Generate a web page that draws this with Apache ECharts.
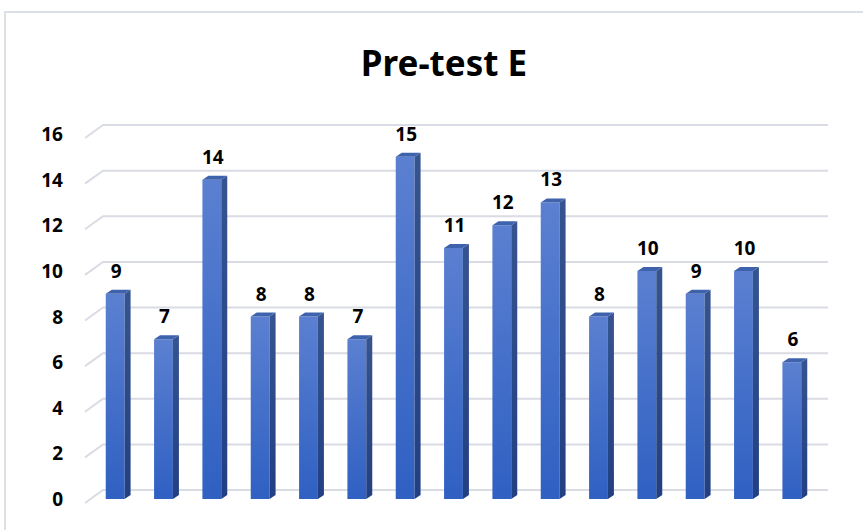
<!DOCTYPE html>
<html>
<head>
<meta charset="utf-8">
<style>
  html, body { margin: 0; padding: 0; background: #fff; }
  #chart { width: 863px; height: 530px; }
</style>
<script src="https://cdn.jsdelivr.net/npm/echarts@6/dist/echarts.min.js"></script>
</head>
<body>
<div id="chart"></div>
<script>
// data
var categories = ['1', '2', '3', '4', '5', '6', '7', '8', '9', '10', '11', '12', '13', '14', '15'];
var scores = [9, 7, 14, 8, 8, 7, 15, 11, 12, 13, 8, 10, 9, 10, 6];
var yTicks = [0, 2, 4, 6, 8, 10, 12, 14, 16];

var chart = echarts.init(document.getElementById('chart'), null, { renderer: 'svg' });

// fake 3d depth of bars and of the back wall
var barDx = 6, barDy = -4;
var wallDy = -9;

function renderGrid(params, api) {
  var cs = params.coordSys;
  var y = api.coord([0, api.value(1)])[1];
  var yb = y + wallDy;
  return {
    type: 'polyline',
    shape: { points: [[cs.x - 6, yb + 13], [cs.x + 12, yb], [cs.x + cs.width + 12, yb]] },
    style: { stroke: '#d9dce4', lineWidth: 2, fill: null },
    silent: true
  };
}

function renderBar(params, api) {
  var i = api.value(0);
  var top = api.coord([i, api.value(1)]);
  var base = api.coord([i, 0]);
  var w = api.size([1, 0])[0] * 0.39;
  var xl = top[0] - w / 2, xr = top[0] + w / 2;
  var yt = top[1], yb = base[1];
  return {
    type: 'group',
    children: [
      {
        type: 'rect',
        shape: { x: xl, y: yt, width: w, height: yb - yt },
        style: {
          fill: new echarts.graphic.LinearGradient(0, 0, 0, 1, [
            { offset: 0, color: '#5b80d1' },
            { offset: 1, color: '#2f60c2' }
          ])
        }
      },
      {
        type: 'polygon',
        shape: { points: [[xr, yt], [xr + barDx, yt + barDy], [xr + barDx, yb + barDy], [xr, yb]] },
        style: {
          fill: new echarts.graphic.LinearGradient(0, 0, 0, 1, [
            { offset: 0, color: '#36548f' },
            { offset: 1, color: '#223f82' }
          ])
        }
      },
      {
        type: 'polygon',
        shape: { points: [[xl, yt], [xl + barDx, yt + barDy], [xr + barDx, yt + barDy], [xr, yt]] },
        style: { fill: '#3f62ad' }
      },
      {
        type: 'text',
        style: {
          text: String(api.value(1)),
          x: top[0] + 1,
          y: yt - 23,
          align: 'center',
          verticalAlign: 'middle',
          fill: '#000',
          font: 'bold 19px "Noto Sans"'
        }
      }
    ]
  };
}

chart.setOption({
  animation: false,
  title: {
    text: 'Pre-test E',
    left: 439,
    top: 40,
    textAlign: 'center',
    textStyle: { fontFamily: 'Noto Sans', fontWeight: 'bold', fontSize: 35, color: '#000' }
  },
  graphic: [{
    type: 'rect',
    shape: { x: 5, y: 12, width: 900, height: 600 },
    style: { fill: null, stroke: '#dde1e6', lineWidth: 2 },
    silent: true
  }],
  grid: { left: 91, right: 47, top: 134, bottom: 31 },
  xAxis: {
    type: 'category',
    data: categories,
    axisLine: { show: false },
    axisTick: { show: false },
    axisLabel: { show: false }
  },
  yAxis: {
    type: 'value',
    min: 0,
    max: 16,
    interval: 2,
    axisLine: { show: false },
    axisTick: { show: false },
    splitLine: { show: false },
    axisLabel: {
      margin: 28,
      padding: [14, 0, 0, 0],
      color: '#000',
      fontFamily: 'Noto Sans',
      fontWeight: 'bold',
      fontSize: 19
    }
  },
  series: [
    {
      type: 'custom',
      renderItem: renderGrid,
      data: yTicks.map(function (t) { return [0, t]; }),
      z: 1,
      silent: true
    },
    {
      type: 'custom',
      renderItem: renderBar,
      data: scores.map(function (v, i) { return [i, v]; }),
      z: 2
    }
  ]
});
</script>
</body>
</html>
